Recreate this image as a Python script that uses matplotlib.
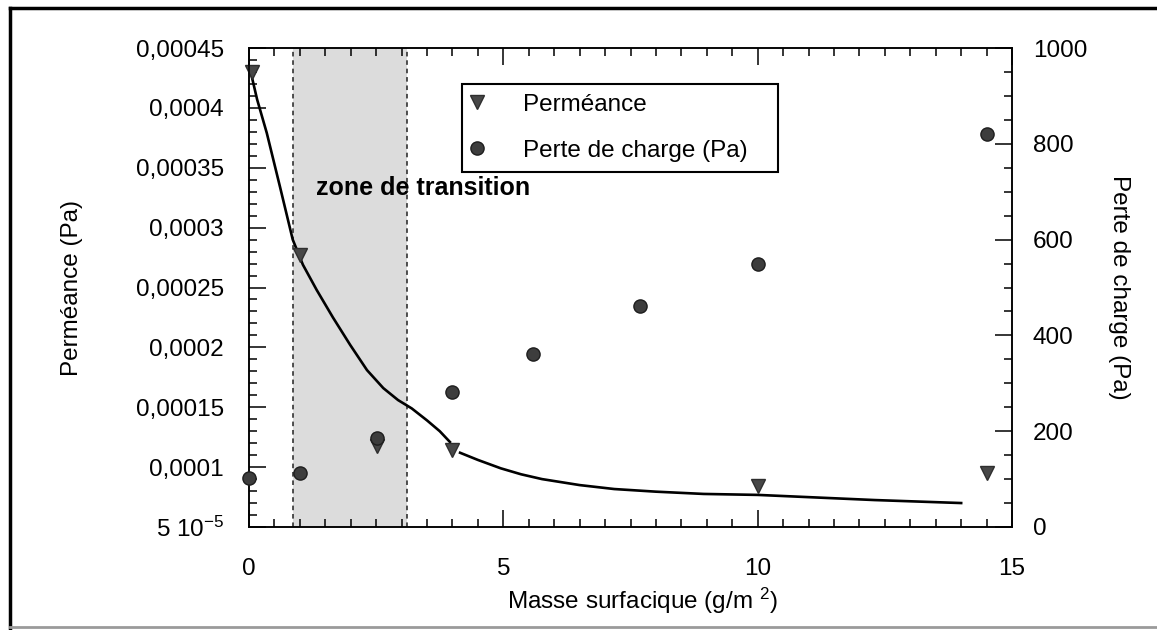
import matplotlib
matplotlib.use("Agg")
import matplotlib.pyplot as plt
from matplotlib.lines import Line2D
from matplotlib.ticker import MultipleLocator

plt.rcParams["font.family"] = ["Liberation Sans", "DejaVu Sans"]
plt.rcParams["mathtext.default"] = "regular"

# mesures
masse_perm = [0.05, 1.0, 2.52, 4.0, 10.0, 14.5]
permeance = [0.00043, 0.000277, 0.000118, 0.000114, 0.0000842, 0.0000951]

masse_perte = [0.0, 1.0, 2.52, 4.0, 5.58, 7.69, 10.0, 14.5]
perte_charge = [102, 113, 186, 282, 361, 461, 549, 820]

# courbe de tendance de la permeance (deux morceaux)
fit_x1 = [0.05, 0.16, 0.35, 0.61, 0.86, 1.06, 1.33, 1.65, 1.99, 2.32, 2.64, 2.93,
          3.2, 3.5, 3.75, 3.95]
fit_y1 = [0.000427, 0.000407, 0.000379, 0.000334, 0.00029, 0.000269, 0.000248,
          0.000225, 0.000202, 0.000181, 0.000166, 0.000156, 0.000149, 0.000139,
          0.00013, 0.000121]
fit_x2 = [4.15, 4.5, 4.95, 5.35, 5.76, 6.5, 7.18, 8.0, 8.94, 10.0, 12.3, 14.0]
fit_y2 = [0.000112, 0.000106, 0.000099, 0.000094, 0.00009, 0.000085, 0.0000817,
          0.0000795, 0.0000776, 0.0000768, 0.0000725, 0.00007]

zone = (0.87, 3.1)

perm_ticks = [5e-5, 1e-4, 1.5e-4, 2e-4, 2.5e-4, 3e-4, 3.5e-4, 4e-4, 4.5e-4]
perm_labels = ["5 10$^{-5}$", "0,0001", "0,00015", "0,0002", "0,00025",
               "0,0003", "0,00035", "0,0004", "0,00045"]
perte_ticks = [0, 200, 400, 600, 800, 1000]

fs = 17.5

fig = plt.figure(figsize=(11.57, 6.30), dpi=100)
ax = fig.add_axes([0.2152, 0.1635, 0.6595, 0.7603])
ax2 = ax.twinx()

# zone de transition
ax.axvspan(zone[0], zone[1], color="#dcdcdc", lw=0, zorder=0)
for xv in zone:
    ax.axvline(xv, color="#222222", lw=1.1, ls=(0, (3, 2.5)), zorder=1)

ax.plot(fit_x1, fit_y1, color="k", lw=1.9, zorder=2, solid_joinstyle="round")
ax.plot(fit_x2, fit_y2, color="k", lw=1.9, zorder=2, solid_joinstyle="round")
ax.plot(masse_perm, permeance, "v", ms=9.5, color="#474747", mec="#2e2e2e",
        ls="none", clip_on=False, zorder=3, label="Perméance")
ax2.plot(masse_perte, perte_charge, "o", ms=9.5, color="#3d3d3d", mec="#1e1e1e",
         ls="none", clip_on=False, zorder=3, label="Perte de charge (Pa)")

ax.text(1.32, 0.000327, "zone de transition", fontsize=18, fontweight="bold",
        ha="left", va="baseline", zorder=4)

ax.set_xlim(0, 15)
ax.set_ylim(5e-5, 4.5e-4)
ax2.set_ylim(0, 1000)

ax.set_xticks([0, 5, 10, 15])
ax.xaxis.set_minor_locator(MultipleLocator(0.5))
ax.set_yticks(perm_ticks, perm_labels)
ax.yaxis.set_minor_locator(MultipleLocator(1e-5))
ax2.set_yticks(perte_ticks)
ax2.yaxis.set_minor_locator(MultipleLocator(50))

ax.tick_params(axis="x", which="both", direction="in", top=True, bottom=True,
               pad=22, labelsize=fs, width=1.1)
ax.tick_params(axis="y", which="both", direction="in", left=True, right=False,
               pad=18, labelsize=fs, width=1.1)
ax2.tick_params(axis="y", which="both", direction="in", right=True, left=False,
                pad=15, labelsize=fs, width=1.1)
for a in (ax, ax2):
    a.tick_params(which="major", length=12)
    a.tick_params(which="minor", length=6)
    for sp in a.spines.values():
        sp.set_linewidth(1.1)

ax.set_xlabel("Masse surfacique (g/m $^{2}$)", fontsize=fs, va="top")
ax.xaxis.set_label_coords(0.515, -0.122)
ax.set_ylabel("Perméance (Pa)", fontsize=fs)
ax.yaxis.set_label_coords(-0.2175, 0.5)
ax2.set_ylabel("Perte de charge (Pa)", fontsize=fs, rotation=270, va="bottom")
ax2.yaxis.set_label_coords(1.1258, 0.5)

h1, l1 = ax.get_legend_handles_labels()
h2, l2 = ax2.get_legend_handles_labels()
leg = ax2.legend(h1 + h2, l1 + l2, loc="upper left", mode="expand",
                 bbox_to_anchor=(0.279, 0.747, 0.414, 0.178), fontsize=fs,
                 fancybox=False, framealpha=1, edgecolor="k", handlelength=0.45,
                 handletextpad=1.65, labelspacing=1.0, borderpad=0.4,
                 borderaxespad=0)
leg.get_frame().set_linewidth(1.5)

# cadre autour de la figure
fig.add_artist(Line2D([10 / 1157, 10 / 1157], [0, 1 - 8 / 630], color="k", lw=2.5))
fig.add_artist(Line2D([10 / 1157, 1], [1 - 8 / 630, 1 - 8 / 630], color="k", lw=2.5))
fig.add_artist(Line2D([10 / 1157, 1], [3 / 630, 3 / 630], color="#9a9a9a", lw=2))

fig.savefig("out.png", dpi=100)
